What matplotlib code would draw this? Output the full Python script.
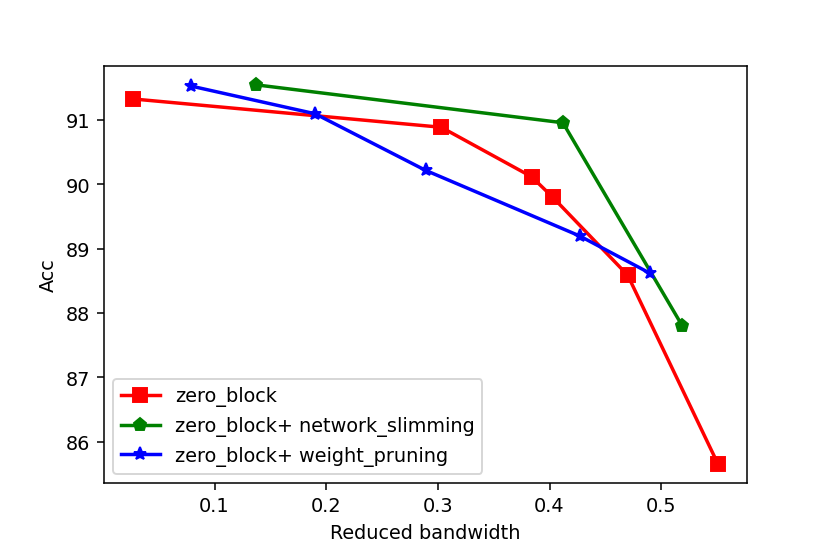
import numpy as np
import matplotlib
matplotlib.use('Agg')
import matplotlib.pyplot as plt

# ---------- data ----------
zb_x = [0.027, 0.303, 0.384, 0.403, 0.470, 0.551]
zb_y = [91.33, 90.89, 90.12, 89.80, 88.59, 85.65]

ns_x = [0.137, 0.412, 0.519]
ns_y = [91.55, 90.96, 87.80]

wp_x = [0.079, 0.190, 0.289, 0.427, 0.490]
wp_y = [91.53, 91.10, 90.22, 89.20, 88.62]

fig = plt.figure(figsize=(6, 4), dpi=138.4)
ax = fig.add_subplot(111)
fig.subplots_adjust(left=0.125, right=0.9, top=0.88, bottom=0.126)

ax.plot(zb_x, zb_y, color='red', marker='s', lw=1.8, ms=7, label='zero_block')
ax.plot(ns_x, ns_y, color='green', marker='p', lw=1.8, ms=7, label='zero_block+ network_slimming')
ax.plot(wp_x, wp_y, color='blue', marker='*', lw=1.8, ms=7, label='zero_block+ weight_pruning')

ax.set_xlabel('Reduced bandwidth')
ax.set_ylabel('Acc')
ax.set_xticks([0.1, 0.2, 0.3, 0.4, 0.5])
ax.set_yticks([86, 87, 88, 89, 90, 91])
ax.legend(loc='lower left')

fig.savefig('out.png', dpi=138.4)
